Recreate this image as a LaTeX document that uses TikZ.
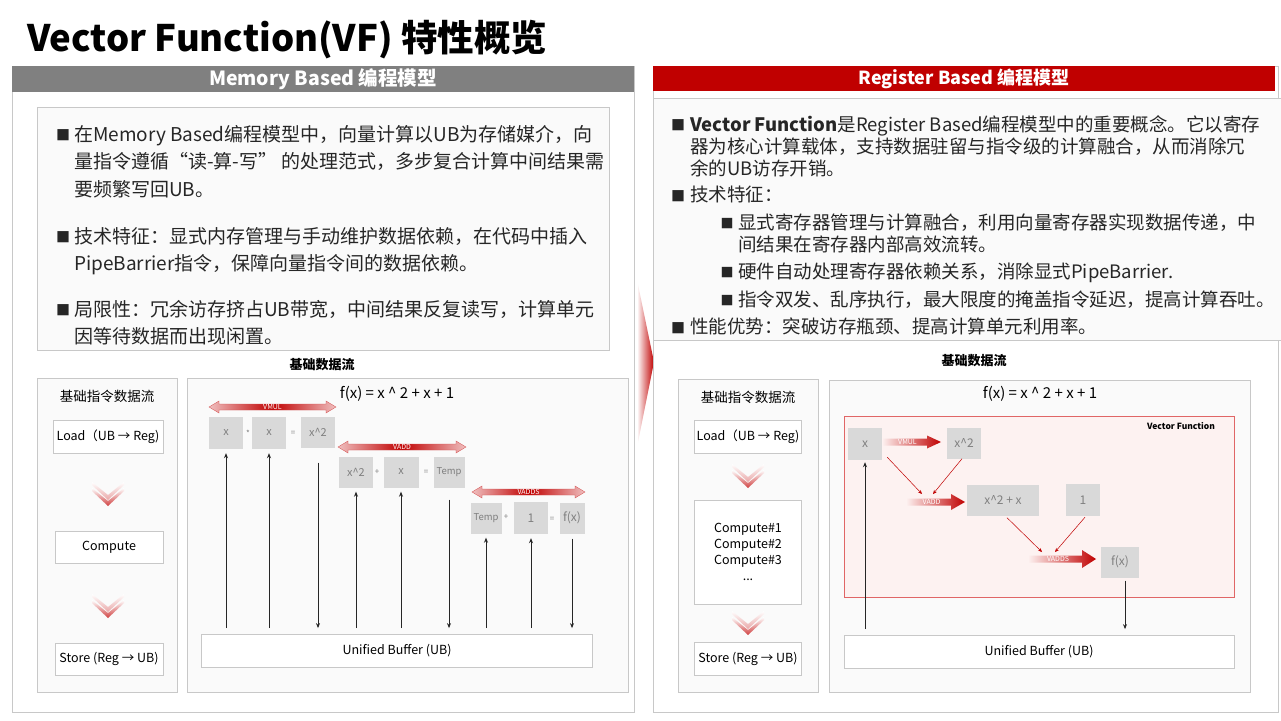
\documentclass[tikz,border=0pt]{standalone}
\usepackage{fontspec}
\setmainfont{Noto Sans CJK SC}
\usetikzlibrary{arrows.meta}

\definecolor{ured}{HTML}{C00000}
\definecolor{headgray}{HTML}{808080}
\definecolor{linegray}{HTML}{C8C8C8}
\definecolor{panelbg}{HTML}{FAFAFA}
\definecolor{regfill}{HTML}{D9D9D9}
\definecolor{regtext}{HTML}{7F7F7F}
\definecolor{bodytxt}{HTML}{262626}
\definecolor{vfbg}{HTML}{FDF2F1}
\definecolor{vfline}{HTML}{E06666}

\newcommand\setfs[1]{\fontsize{#1}{#1}\selectfont}
% double band arrow: x1, x2, y, label, name
\newcommand\dblband[5]{%
  \path[shade,left color=ured!25,right color=ured!25,middle color=ured,draw=ured!70,line width=0.3pt]
    (#1,#3) -- ({#1+10},{#3-6}) -- ({#1+10},{#3-3}) -- ({#2-10},{#3-3}) -- ({#2-10},{#3-6}) -- (#2,#3)
    -- ({#2-10},{#3+6}) -- ({#2-10},{#3+3}) -- ({#1+10},{#3+3}) -- ({#1+10},{#3+6}) -- cycle;
  \node[oplabel] (#5) at ({(#1+#2)/2},{#3-0.5}) {#4};}
% fat arrow: x1, x2, y, half head, label, name
\newcommand\fatarrow[6]{%
  \shade[left color=vfbg,right color=ured]
    (#1,{#3-3.5}) -- ({#2-14},{#3-3.5}) -- ({#2-14},{#3-#4}) -- (#2,#3)
    -- ({#2-14},{#3+#4}) -- ({#2-14},{#3+3.5}) -- (#1,{#3+3.5}) -- cycle;
  \node[oplabel] (#6) at ({(#1+#2)/2-4},{#3-0.5}) {#5};}
% chevron pair: x, top y
\newcommand\chev[2]{%
  \foreach \d/\c in {0/35,6/75}{
    \shade[top color=white,bottom color=ured!\c]
      ({#1-16},{#2+\d}) -- (#1,{#2+\d+13}) -- ({#1+16},{#2+\d}) -- ({#1+16},{#2+\d+3})
      -- (#1,{#2+\d+18}) -- ({#1-16},{#2+\d+3}) -- cycle;}}

\begin{document}
\begin{tikzpicture}[x=1pt,y=-1pt,
  panel/.style={draw=linegray,fill=panelbg,line width=0.8pt},
  flowbox/.style={draw=linegray,fill=white,line width=0.8pt,inner sep=0pt,font=\setfs{12.5}},
  regbox/.style={fill=regfill,text=regtext,inner sep=0pt,font=\setfs{11}},
  op/.style={text=regtext,inner sep=0pt,font=\setfs{8}},
  oplabel/.style={text=white,inner sep=0pt,font=\setfs{7}},
  para/.style={anchor=north west,align=left,inner sep=0pt,text=bodytxt},
  lpara/.style={para,font=\fontsize{19}{27.5}\selectfont},
  rpara/.style={para,font=\fontsize{18.5}{22}\selectfont},
  bul/.style={inner sep=0pt,text=bodytxt,font=\setfs{14}},
  ptr/.style={-{Stealth[length=5pt,width=4pt]},line width=0.7pt,draw=black!85},
  redptr/.style={-{Stealth[length=4pt,width=3.5pt]},line width=0.5pt,draw=ured}]
\useasboundingbox[fill=white] (0,0) rectangle (1281,720);

\node[anchor=west,inner sep=0pt,font=\bfseries\setfs{36.5}] (title) at (27,40) {Vector Function(VF) 特性概览};

%% left panel
\draw[linegray,line width=0.8pt] (12,66) rectangle (634,712);
\fill[headgray] (12,66) rectangle (634,92);
\node[text=white,font=\bfseries\setfs{19.5}] (lhead) at (323,79) {Memory Based 编程模型};
\draw[panel] (37,107) rectangle (609,350);
\node[bul] (lb1) at (63,135) {■};
\node[lpara] (lp1) at (74,125) {在Memory Based编程模型中，向量计算以UB为存储媒介，向\\
  量指令遵循“读-算-写” 的处理范式，多步复合计算中间结果需\\要频繁写回UB。};
\node[bul] (lb2) at (63,237) {■};
\node[lpara] (lp2) at (74,227) {技术特征：显式内存管理与手动维护数据依赖，在代码中插入\\
  PipeBarrier指令，保障向量指令间的数据依赖。};
\node[bul] (lb3) at (63,310) {■};
\node[lpara] (lp3) at (74,300) {局限性：冗余访存挤占UB带宽，中间结果反复读写，计算单元\\
  因等待数据而出现闲置。};
\node[font=\bfseries\setfs{13}] (lflow) at (322,365) {基础数据流};

\draw[panel] (37,378) rectangle (177,692);
\node[font=\setfs{13.5}] (lsteps) at (107,396) {基础指令数据流};
\node[flowbox,minimum width=110,minimum height=33] (load) at (108,437) {Load（UB → Reg)};
\chev{108}{482}
\node[flowbox,minimum width=108,minimum height=32] (comp) at (109,547) {Compute};
\chev{108}{594}
\node[flowbox,minimum width=108,minimum height=32] (store) at (109,659) {Store (Reg → UB)};

\draw[panel] (187,378) rectangle (628,692);
\node[font=\setfs{15}] (lfx) at (397,394) {f(x) = x \textasciicircum{} 2 + x + 1};
\dblband{209}{336}{407}{VMUL}{vmul}
\node[regbox,minimum width=34,minimum height=32] (a1) at (226,433) {x};
\node[op] at (248,433) {*};
\node[regbox,minimum width=34,minimum height=32] (a2) at (269,433) {x};
\node[op] at (293,433) {=};
\node[regbox,minimum width=34,minimum height=31] (a3) at (318,432) {x\textasciicircum 2};
\dblband{338}{466}{447}{VADD}{vadd}
\node[regbox,minimum width=34,minimum height=31] (b1) at (356,472) {x\textasciicircum 2};
\node[op] at (377,472) {+};
\node[regbox,minimum width=35,minimum height=31] (b2) at (401,472) {x};
\node[op] at (426,472) {=};
\node[regbox,minimum width=31,minimum height=31,font=\setfs{9.5}] (b3) at (449,472) {Temp};
\dblband{472}{585}{492}{VADDS}{vadds}
\node[regbox,minimum width=31,minimum height=31,font=\setfs{9.5}] (c1) at (486,518) {Temp};
\node[op] at (506,517) {+};
\node[regbox,minimum width=34,minimum height=32,font=\setfs{12}] (c2) at (531,518) {1};
\node[op] at (552,519) {=};
\node[regbox,minimum width=25,minimum height=31,font=\setfs{12}] (c3) at (572,518) {f(x)};
\node[flowbox,minimum width=391,minimum height=33] (ub) at (397,651) {Unified Buffer (UB)};
\foreach \n in {a1,a2,b1,b2,c1,c2}
  \draw[ptr,shorten <=6pt,shorten >=4pt] (ub.north -| \n) -- (\n.south);
\foreach \n/\s in {a3/15,b3/12,c3/5}
  \draw[ptr,shorten <=\s pt,shorten >=6pt] (\n.south) -- (\n.south |- ub.north);

%% pointer between panels
\shade[left color=white,right color=ured] (637,280) -- (654,362) -- (637,447) -- cycle;

%% right panel
\draw[linegray,line width=0.8pt] (653,66) rectangle (1278,712);
\fill[ured] (653,66) rectangle (1275,91);
\node[text=white,font=\bfseries\setfs{18}] (rhead) at (964,79) {Register Based 编程模型};
\draw[panel] (653,98) rectangle (1282,340);
\node[bul] (rb1) at (678,125) {■};
\node[rpara] (rp1) at (690,115) {\textbf{Vector Function}是Register Based编程模型中的重要概念。它以寄存\\
  器为核心计算载体，支持数据驻留与指令级的计算融合，从而消除冗\\余的UB访存开销。};
\node[bul] (rb2) at (678,196) {■};
\node[rpara] (rp2) at (690,186) {技术特征：};
\node[bul,font=\setfs{13}] (rb3) at (727,224) {■};
\node[rpara] (rp3) at (738,214) {显式寄存器管理与计算融合，利用向量寄存器实现数据传递，中\\
  间结果在寄存器内部高效流转。};
\node[bul,font=\setfs{13}] (rb4) at (727,273) {■};
\node[rpara] (rp4) at (738,263) {硬件自动处理寄存器依赖关系，消除显式PipeBarrier.};
\node[bul,font=\setfs{13}] (rb5) at (727,301) {■};
\node[rpara] (rp5) at (738,291) {指令双发、乱序执行，最大限度的掩盖指令延迟，提高计算吞吐。};
\node[bul] (rb6) at (678,328) {■};
\node[rpara] (rp6) at (690,318) {性能优势：突破访存瓶颈、提高计算单元利用率。};
\node[font=\bfseries\setfs{13}] (rflow) at (974,361) {基础数据流};

\draw[panel] (678,379) rectangle (818,692);
\node[font=\setfs{13.5}] (rsteps) at (748,397) {基础指令数据流};
\node[flowbox,minimum width=107,minimum height=33] (rload) at (748,437) {Load（UB → Reg)};
\chev{748}{464}
\node[flowbox,minimum width=107,minimum height=104,align=center,font=\fontsize{12.5}{16}\selectfont]
  (rcomp) at (748,552) {Compute\#1\\Compute\#2\\Compute\#3\\...};
\chev{748}{611}
\node[flowbox,minimum width=107,minimum height=33] (rstore) at (748,659) {Store (Reg → UB)};

\draw[panel] (829,380) rectangle (1250,692);
\node[font=\setfs{15}] (rfxt) at (1040,394) {f(x) = x \textasciicircum{} 2 + x + 1};
\draw[vfline,fill=vfbg,line width=0.8pt] (844,416) rectangle (1234,597);
\node[font=\bfseries\setfs{8.5}] (vflab) at (1181,426) {Vector Function};
\node[regbox,minimum width=34,minimum height=32,font=\setfs{12}] (rx) at (865,444) {x};
\node[regbox,minimum width=34,minimum height=31,font=\setfs{12}] (rxsq) at (964,443) {x\textasciicircum 2};
\node[regbox,minimum width=72,minimum height=31,font=\setfs{12}] (rsum) at (1003,500) {x\textasciicircum 2 + x};
\node[regbox,minimum width=34,minimum height=32,font=\setfs{12}] (rone) at (1083,500) {1};
\node[regbox,minimum width=38,minimum height=31,font=\setfs{12}] (rfx) at (1120,562) {f(x)};
\fatarrow{882}{941}{442}{6.5}{VMUL}{rvmul}
\fatarrow{906}{965}{502}{8}{VADD}{rvadd}
\fatarrow{1028}{1096}{559}{9}{VADDS}{rvadds}
\coordinate (vaddin1) at (922,494);
\coordinate (vaddin2) at (933,494);
\coordinate (vaddsin1) at (1042,552);
\coordinate (vaddsin2) at (1055,552);
\draw[redptr] ([xshift=5pt,yshift=3pt]rx.south east) -- (vaddin1);
\draw[redptr] ([xshift=-2pt]rxsq.south) -- (vaddin2);
\draw[redptr] ([xshift=4pt,yshift=-2pt]rsum.south) -- (vaddsin1);
\draw[redptr] ([xshift=2pt,yshift=-1pt]rone.south) -- (vaddsin2);
\node[flowbox,minimum width=390,minimum height=33] (rub) at (1039,652) {Unified Buffer (UB)};
\draw[ptr,shorten <=6pt,shorten >=2pt] (rub.north -| rx) -- (rx.south);
\draw[ptr,shorten <=3pt,shorten >=6pt] ([xshift=5pt]rfx.south) -- ([xshift=5pt]rfx.south |- rub.north);
\end{tikzpicture}
\end{document}
